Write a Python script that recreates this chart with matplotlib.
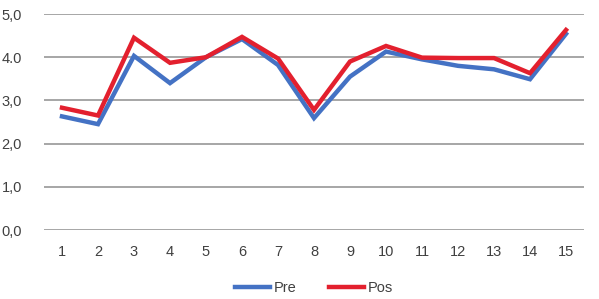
import matplotlib
matplotlib.use("Agg")
import matplotlib.pyplot as plt

# data
items = list(range(1, 16))
pre = [2.63, 2.45, 4.03, 3.40, 4.00, 4.42, 3.82, 2.59, 3.55, 4.13, 3.95, 3.80, 3.72, 3.49, 4.54]
pos = [2.83, 2.65, 4.45, 3.87, 4.00, 4.47, 3.97, 2.78, 3.90, 4.26, 3.99, 3.98, 3.98, 3.63, 4.63]
y_ticks = [0, 1, 2, 3, 4, 5]
y_labels = ["0,0", "1,0", "2,0", "3,0", "4.0", "5,0"]

plt.rcParams["font.family"] = ["Liberation Sans", "DejaVu Sans"]

fig = plt.figure(figsize=(5.99, 2.99), dpi=100)
ax = fig.add_axes([44 / 599, 1 - 230 / 299, 540 / 599, 216 / 299])

ax.plot(items, pre, color="#4472C4", lw=3.2, label="Pre", solid_joinstyle="miter", zorder=3)
ax.plot(items, pos, color="#E3202E", lw=3.2, label="Pos", solid_joinstyle="miter", zorder=4)

ax.set_xlim(0.5, 15.5)
ax.set_ylim(0, 5)
ax.set_yticks(y_ticks)
ax.set_yticklabels(y_labels)
ax.set_xticks(items)
ax.set_xticklabels([str(i) for i in items])
ax.yaxis.grid(True, color="#A6A6A6", lw=1.4)
ax.set_axisbelow(True)
for s in ax.spines.values():
    s.set_visible(False)
ax.tick_params(length=0, labelsize=10.5, colors="#404040")
ax.tick_params(axis="y", pad=16)
ax.tick_params(axis="x", pad=11)

ax.legend(loc="upper center", bbox_to_anchor=(0.5, -0.175), ncol=2, frameon=False,
          fontsize=10.5, handlelength=2.4, handletextpad=0.25, columnspacing=2.2,
          labelcolor="#404040")

fig.savefig("out.png", dpi=100)
